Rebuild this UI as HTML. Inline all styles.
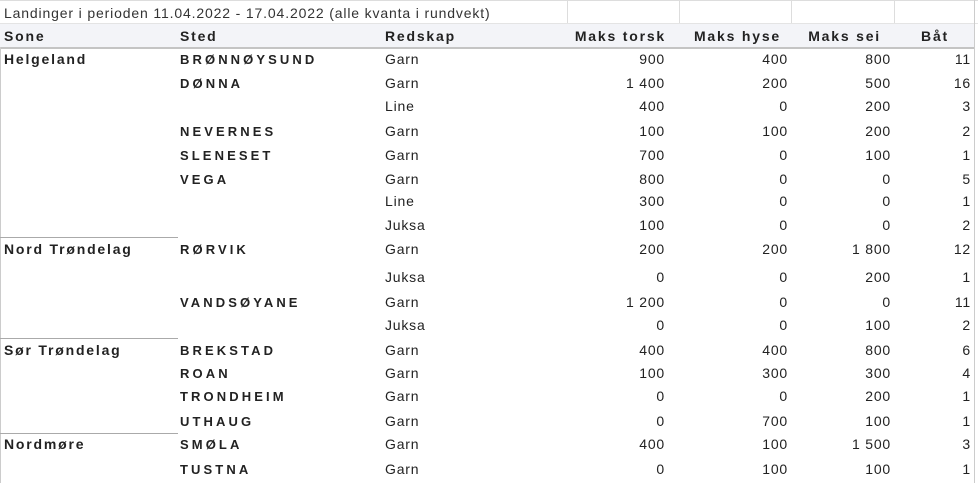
<!DOCTYPE html>
<html><head><meta charset="utf-8"><style>
body{margin:0;width:978px;height:483px;background:#fff;position:relative;overflow:hidden;font-family:"Liberation Sans",sans-serif;color:#222}
.t{position:absolute;font-size:14px;line-height:16px;white-space:nowrap;letter-spacing:0.8px}
.b{font-weight:bold;letter-spacing:1.8px}
.s{font-weight:bold;letter-spacing:3.1px;font-size:13px;margin-top:1px}
.r{text-align:right}
.l{position:absolute;background:#c8c8c8}
</style></head><body>
<div class="l" style="left:0;top:0;width:978px;height:1px;background:#ddd"></div>
<div class="l" style="left:0;top:23px;width:978px;height:1px;background:#e4e4e4"></div>
<div style="position:absolute;left:0;top:24px;width:974px;height:23px;background:#f3f4f8"></div>
<div class="l" style="left:0;top:47px;width:974px;height:2px;background:#c4c4c4"></div>
<div class="l" style="left:567px;top:0;width:1px;height:23px;background:#ddd"></div>
<div class="l" style="left:679px;top:0;width:1px;height:23px;background:#ddd"></div>
<div class="l" style="left:791px;top:0;width:1px;height:23px;background:#ddd"></div>
<div class="l" style="left:894px;top:0;width:1px;height:23px;background:#ddd"></div>
<div class="l" style="left:974px;top:0;width:1px;height:483px;background:#ccc"></div>
<div class="l" style="left:0;top:47px;width:1px;height:436px;background:#ccc"></div>
<div class="l" style="left:0;top:237px;width:178px;height:1px;background:#aaa"></div>
<div class="l" style="left:0;top:338px;width:178px;height:1px;background:#aaa"></div>
<div class="l" style="left:0;top:433px;width:178px;height:1px;background:#aaa"></div>

<div class="t" style="left:4px;top:5px;color:#333;letter-spacing:0.85px">Landinger i perioden 11.04.2022 - 17.04.2022 (alle kvanta i rundvekt)</div>
<div class="t b" style="left:4px;top:28px">Sone</div>
<div class="t b" style="left:180px;top:28px">Sted</div>
<div class="t b" style="left:385px;top:28px">Redskap</div>
<div class="t b r" style="left:540px;width:126px;top:28px">Maks torsk</div>
<div class="t b r" style="left:660px;width:121px;top:28px">Maks hyse</div>
<div class="t b r" style="left:770px;width:111px;top:28px">Maks sei</div>
<div class="t b r" style="left:890px;width:59px;top:28px">Båt</div>

<div class="t b" style="left:4px;top:51px">Helgeland</div>
<div class="t b" style="left:4px;top:241px">Nord Trøndelag</div>
<div class="t b" style="left:4px;top:342px">Sør Trøndelag</div>
<div class="t b" style="left:4px;top:436px">Nordmøre</div>

<div id="rows"></div>
<script>
var R=[[59,"BRØNNØYSUND","Garn","900","400","800","11"],
[83,"DØNNA","Garn","1 400","200","500","16"],
[106,"","Line","400","0","200","3"],
[131,"NEVERNES","Garn","100","100","200","2"],
[155,"SLENESET","Garn","700","0","100","1"],
[179,"VEGA","Garn","800","0","0","5"],
[201,"","Line","300","0","0","1"],
[225,"","Juksa","100","0","0","2"],
[249,"RØRVIK","Garn","200","200","1 800","12"],
[277,"","Juksa","0","0","200","1"],
[302,"VANDSØYANE","Garn","1 200","0","0","11"],
[325,"","Juksa","0","0","100","2"],
[350,"BREKSTAD","Garn","400","400","800","6"],
[373,"ROAN","Garn","100","300","300","4"],
[396,"TRONDHEIM","Garn","0","0","200","1"],
[421,"UTHAUG","Garn","0","700","100","1"],
[444,"SMØLA","Garn","400","100","1 500","3"],
[469,"TUSTNA","Garn","0","100","100","1"]];
var h="";R.forEach(function(r){var y=r[0]-8;
h+='<div class="t s" style="left:180px;top:'+y+'px">'+r[1]+'</div>';
h+='<div class="t" style="left:385px;top:'+y+'px">'+r[2]+'</div>';
h+='<div class="t r" style="left:560px;width:105px;top:'+y+'px">'+r[3]+'</div>';
h+='<div class="t r" style="left:680px;width:108px;top:'+y+'px">'+r[4]+'</div>';
h+='<div class="t r" style="left:790px;width:101px;top:'+y+'px">'+r[5]+'</div>';
h+='<div class="t r" style="left:900px;width:71px;top:'+y+'px">'+r[6]+'</div>';});
document.getElementById("rows").innerHTML=h;
</script>
</body></html>
